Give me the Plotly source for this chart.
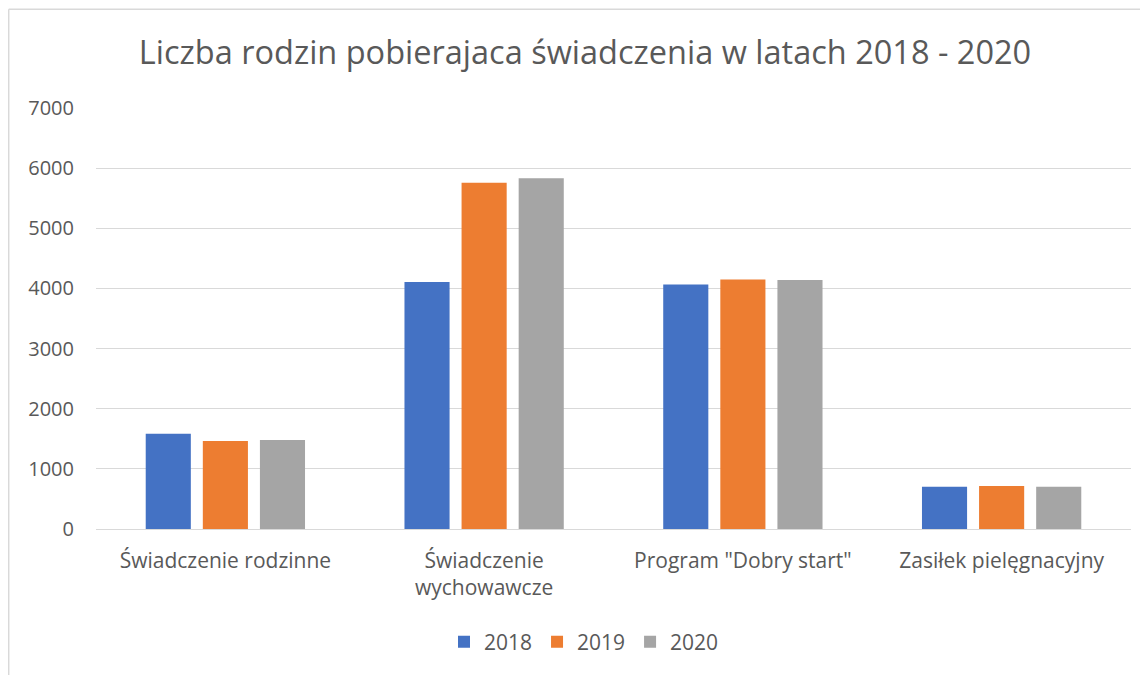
import plotly.graph_objects as go

categories = ["Świadczenie rodzinne", "Świadczenie<br>wychowawcze", "Program \"Dobry start\"", "Zasiłek pielęgnacyjny"]
years = ["2018", "2019", "2020"]
values_2018 = [1585, 4107, 4065, 703]
values_2019 = [1463, 5758, 4150, 715]
values_2020 = [1480, 5830, 4140, 703]
colors = ["#4472C4", "#ED7D31", "#A5A5A5"]
y_ticks = [0, 1000, 2000, 3000, 4000, 5000, 6000, 7000]

FONT = "Open Sans"
TXT = "#595959"

fig = go.Figure()
for name, vals, col in zip(years, [values_2018, values_2019, values_2020], colors):
    fig.add_trace(go.Bar(name=name, x=categories, y=vals, marker=dict(color=col, line=dict(width=0))))

# page has an 8px body margin; figure coordinates are offset by (8, 8)
OFF = 8
W, H = 1148, 675
L, R, T, B = 96 - OFF, W - (1131 - OFF), 108 - OFF, H - (529 - OFF)
pw, ph = W - L - R, H - T - B
bx = (0.7 - L) / pw
by = (H - B - 1.3) / ph

fig.update_layout(
    width=W, height=H,
    margin=dict(l=L, r=R, t=T, b=B),
    paper_bgcolor="white", plot_bgcolor="white",
    barmode="group", bargap=0.338, bargroupgap=0.21,
    title=dict(text="Liczba rodzin pobierajaca świadczenia w latach 2018 - 2020",
               x=(585 - OFF - L) / pw, xref="paper", xanchor="center",
               y=1 - (53 - OFF) / H, yanchor="middle",
               font=dict(family=FONT, size=32.5, color=TXT)),
    font=dict(family=FONT, color=TXT),
    legend=dict(orientation="h", x=(584 - OFF - L) / pw, xanchor="center", y=(H - B - (642 - OFF)) / ph,
                yanchor="middle", font=dict(family=FONT, size=21, color=TXT), itemwidth=30, traceorder="normal"),
    showlegend=True,
)
fig.update_yaxes(range=[0, 7000], tickvals=y_ticks, showgrid=True, gridcolor="#D9D9D9", gridwidth=1,
                 zeroline=True, zerolinecolor="#D9D9D9", zerolinewidth=1, showline=False,
                 tickfont=dict(family=FONT, size=20, color=TXT), ticklabelstandoff=21, fixedrange=True)
fig.update_xaxes(showline=False, tickfont=dict(family=FONT, size=21, color=TXT), ticklabelstandoff=17, fixedrange=True)

fig.add_shape(type="line", xref="paper", yref="paper", x0=bx, x1=bx, y0=-1, y1=by, line=dict(color="#D9D9D9", width=1.5))
fig.add_shape(type="line", xref="paper", yref="paper", x0=bx, x1=1.5, y0=by, y1=by, line=dict(color="#D9D9D9", width=1.5))

fig.write_html("out.html")
